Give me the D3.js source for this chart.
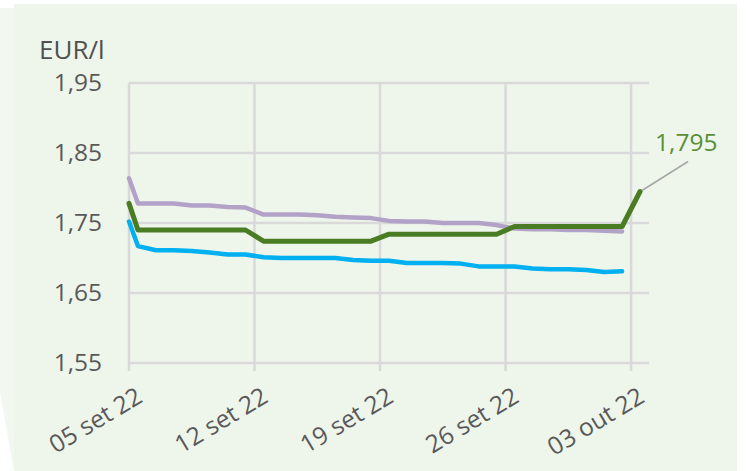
<!DOCTYPE html>
<html>
<head>
<meta charset="utf-8">
<script src="https://cdn.jsdelivr.net/npm/d3@7"></script>
<style>
  html, body { margin: 0; padding: 0; background: #ffffff; }
  svg { display: block; }
  text { font-family: "Open Sans", "Noto Sans", sans-serif; }
</style>
</head>
<body>
<svg id="chart"></svg>
<script>
// daily price points (first at 00:00, then at noon of each day)
const dates = [
    "2022-09-05 00:00", "2022-09-05 12:00", "2022-09-06 12:00", "2022-09-07 12:00",
    "2022-09-08 12:00", "2022-09-09 12:00", "2022-09-10 12:00", "2022-09-11 12:00",
    "2022-09-12 12:00", "2022-09-13 12:00", "2022-09-14 12:00", "2022-09-15 12:00",
    "2022-09-16 12:00", "2022-09-17 12:00", "2022-09-18 12:00", "2022-09-19 12:00",
    "2022-09-20 12:00", "2022-09-21 12:00", "2022-09-22 12:00", "2022-09-23 12:00",
    "2022-09-24 12:00", "2022-09-25 12:00", "2022-09-26 12:00", "2022-09-27 12:00",
    "2022-09-28 12:00", "2022-09-29 12:00", "2022-09-30 12:00", "2022-10-01 12:00",
    "2022-10-02 12:00", "2022-10-03 12:00"
];

const purpleValues = [
    1.814, 1.778, 1.778, 1.778, 1.775, 1.775, 1.773, 1.772, 1.762, 1.762,
    1.762, 1.761, 1.759, 1.758, 1.757, 1.753, 1.752, 1.752, 1.750, 1.750,
    1.750, 1.747, 1.742, 1.741, 1.741, 1.740, 1.740, 1.739, 1.738
];

const blueValues = [
    1.752, 1.717, 1.711, 1.711, 1.710, 1.708, 1.705, 1.705, 1.701, 1.700,
    1.700, 1.700, 1.700, 1.697, 1.696, 1.696, 1.693, 1.693, 1.693, 1.692,
    1.688, 1.688, 1.688, 1.685, 1.684, 1.684, 1.683, 1.680, 1.681
];

const greenValues = [
    1.778, 1.740, 1.740, 1.740, 1.740, 1.740, 1.740, 1.740, 1.724, 1.724,
    1.724, 1.724, 1.724, 1.724, 1.724, 1.734, 1.734, 1.734, 1.734, 1.734,
    1.734, 1.734, 1.745, 1.745, 1.745, 1.745, 1.745, 1.745, 1.745, 1.795
];

const yTicks = [1.55, 1.65, 1.75, 1.85, 1.95];
const xTickDates = ["2022-09-05", "2022-09-12", "2022-09-19", "2022-09-26", "2022-10-03"];
const xTickLabels = ["05 set 22", "12 set 22", "19 set 22", "26 set 22", "03 out 22"];
const lastLabel = "1,795";

const width = 746;
const height = 471;
const margin = {top: 83, right: 97, bottom: 108, left: 129};

const parseTime = d3.timeParse("%Y-%m-%d %H:%M");
const parseDay = d3.timeParse("%Y-%m-%d");

const svg = d3.select("#chart")
    .attr("width", width)
    .attr("height", height)
    .attr("viewBox", [0, 0, width, height]);

// background panels
svg.append("polygon")
    .attr("points", [[0, 8], [14, 8], [14, 471], [0, 393]].join(" "))
    .style("fill", "#f2f7f0");
svg.append("rect")
    .attr("x", 14)
    .attr("y", 4)
    .attr("width", 723)
    .attr("height", 467)
    .style("fill", "#eef5eb");

const x = d3.scaleTime()
    .domain([parseDay("2022-09-05"), parseDay("2022-10-04")])
    .range([margin.left, width - margin.right]);

const y = d3.scaleLinear()
    .domain([1.55, 1.95])
    .range([height - margin.bottom, margin.top]);

const grid = svg.append("g").attr("class", "grid");

grid.selectAll("line.h")
    .data(yTicks)
    .join("line")
    .attr("class", "h")
    .attr("x1", x.range()[0])
    .attr("x2", x.range()[1])
    .attr("y1", d => y(d))
    .attr("y2", d => y(d))
    .style("stroke", "#d9d9d9")
    .style("stroke-width", 2.5);

grid.selectAll("line.v")
    .data(xTickDates)
    .join("line")
    .attr("class", "v")
    .attr("x1", d => x(parseDay(d)))
    .attr("x2", d => x(parseDay(d)))
    .attr("y1", y.range()[1])
    .attr("y2", y.range()[0] + 8)
    .style("stroke", "#d9d9d9")
    .style("stroke-width", 2.5);

// y tick labels
svg.append("g")
    .selectAll("text")
    .data(yTicks)
    .join("text")
    .attr("x", 102)
    .attr("y", d => y(d) + 8)
    .attr("text-anchor", "end")
    .style("font-size", "24.5px")
    .style("fill", "#595959")
    .text(d => d3.format(".2f")(d).replace(".", ","));

svg.append("text")
    .attr("x", 39)
    .attr("y", 59)
    .style("font-size", "26px")
    .style("fill", "#505050")
    .text("EUR/l");

// x tick labels
svg.append("g")
    .selectAll("text")
    .data(xTickDates)
    .join("text")
    .attr("text-anchor", "end")
    .attr("transform", d => `translate(${x(parseDay(d)) + 15},${y.range()[0] + 38}) rotate(-31)`)
    .style("font-size", "24.5px")
    .style("fill", "#595959")
    .text((d, i) => xTickLabels[i]);

const series = [
    {name: "purple", values: purpleValues, color: "#b3a2c7", width: 4.5},
    {name: "blue", values: blueValues, color: "#00b0f0", width: 4.5},
    {name: "green", values: greenValues, color: "#4a7d23", width: 5}
];

const line = d3.line()
    .x(d => x(d.date))
    .y(d => y(d.value));

svg.append("g")
    .selectAll("path")
    .data(series)
    .join("path")
    .attr("d", s => line(s.values.map((v, i) => ({date: parseTime(dates[i]), value: v}))))
    .style("fill", "none")
    .style("stroke", s => s.color)
    .style("stroke-width", s => s.width)
    .style("stroke-linejoin", "round")
    .style("stroke-linecap", "round");

// data label on the last green point
const lastIdx = greenValues.length - 1;
const lx = x(parseTime(dates[lastIdx]));
const ly = y(greenValues[lastIdx]);

svg.append("line")
    .attr("x1", lx + 2)
    .attr("y1", ly - 1)
    .attr("x2", lx + 48)
    .attr("y2", ly - 30)
    .style("stroke", "#a6a6a6")
    .style("stroke-width", 1.5);

svg.append("text")
    .attr("x", lx + 15)
    .attr("y", ly - 41)
    .style("font-size", "24.5px")
    .style("fill", "#5a8f35")
    .text(lastLabel);
</script>
</body>
</html>
